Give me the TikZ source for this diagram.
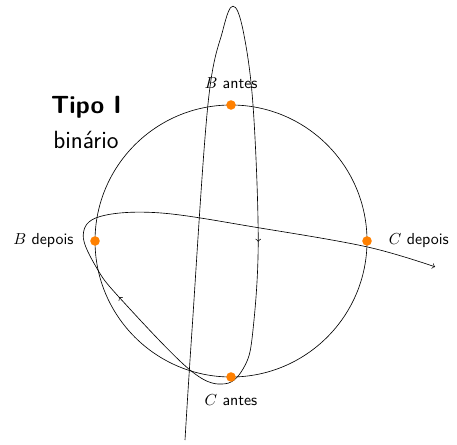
\documentclass[tikz,border=0pt]{standalone}
\usetikzlibrary{positioning,decorations.markings}
\usepackage{xcolor}
\definecolor{ponto}{HTML}{FF8000}

\begin{document}
\begin{tikzpicture}[
    every node/.style={font=\sffamily},
    ponto/.style={circle, fill=ponto, inner sep=0pt, minimum size=6pt},
    rotulo/.style={font=\sffamily, inner sep=1pt},
    titulo/.style={font=\sffamily\fontsize{15.6}{19}\selectfont, anchor=base},
    trajeto/.style={->, >=to, postaction={decorate},
        decoration={markings,
            mark=at position 0.48 with {\arrow{to}},
            mark=at position 0.688 with {\arrow{to}}}},
]
\useasboundingbox (-5.096,-4.50) rectangle (4.985,5.316);

% Circulo
\draw (0,0) circle (3cm);

% Titulo
\node[titulo] (tipo) at (-3.19,2.82) {\bfseries Tipo I};
\node[titulo] (binario) at (-3.20,2.05) {bin\'ario};

% Trajeto
\draw[trajeto] plot[smooth, tension=0.6] coordinates {
    (-1.015,-4.39) (-0.86,-1.96) (-0.51,3.00) (-0.18,4.65) (0.044,5.18)
    (0.265,4.65) (0.485,3.00) (0.60,0.02) (0.485,-1.96) (0.31,-2.74)
    (-0.13,-3.15) (-0.90,-2.85) (-2.45,-1.26) (-2.96,-0.60) (-3.26,0.13)
    (-2.89,0.54) (-1.57,0.62) (0.62,0.29) (3.0,-0.13) (4.5,-0.57)};

% Pontos
\node[ponto] (bantes)  at (0,3)  {};
\node[ponto] (cantes)  at (0,-3) {};
\node[ponto] (bdepois) at (-3,0) {};
\node[ponto] (cdepois) at (3,0)  {};

% Rotulos
\node[rotulo, above=0.2cm of bantes]   {$B$ antes};
\node[rotulo, below=0.24cm of cantes]  {$C$ antes};
\node[rotulo, left=0.32cm of bdepois]  {$B$ depois};
\node[rotulo, right=0.33cm of cdepois] {$C$ depois};

\end{tikzpicture}
\end{document}
